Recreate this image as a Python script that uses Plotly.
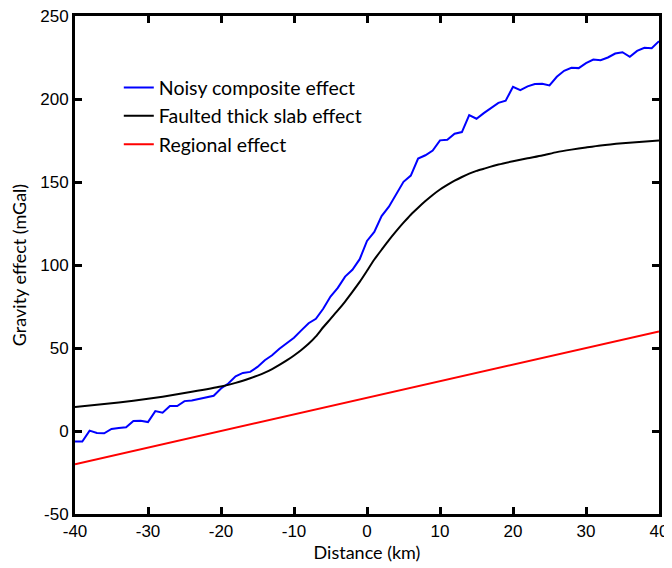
import plotly.graph_objects as go

# distance along profile (km), 1 km sampling for the noisy profile
dist = list(range(-40, 41))
noisy = [-6.4, -6.4, 0.2, -1.2, -1.4, 1.2, 1.8, 2.2, 6.0, 6.2,
         5.4, 12.0, 11.0, 15.0, 15.0, 18.0, 18.4, 19.4, 20.4, 21.2,
         25.6, 28.6, 33.0, 35.0, 35.6, 38.6, 42.6, 45.6, 49.6, 52.9,
         56.2, 60.6, 64.9, 67.6, 73.6, 81.0, 86.2, 93.0, 97.1, 103.5,
         114.5, 119.9, 129.5, 135.1, 142.5, 150.1, 153.9, 164.1, 166.1, 168.9,
         175.1, 175.5, 179.1, 180.1, 190.3, 188.1, 191.5, 194.7, 197.7, 199.0,
         207.4, 205.4, 207.6, 209.0, 209.2, 208.2, 213.4, 217.0, 218.8, 218.6,
         221.6, 223.8, 223.4, 225.0, 227.4, 228.2, 225.4, 229.0, 230.8, 230.6,
         234.8]

# slab effect read at fewer points (smooth curve)
slab_x = [-40, -36, -32, -28, -24, -20, -18, -16, -15, -14, -13, -12, -11, -10, -9, -8, -7, -6, -5, -4, -3, -2, -1,
          0, 1, 2, 3, 4, 5, 6, 7, 8, 9, 10, 11, 12, 13, 14, 15, 16, 18, 20, 22, 24, 26, 28, 30, 32, 35, 40]
slab = [14.5, 16.2, 18.2, 20.7, 23.6, 26.8, 29.0, 31.8, 33.4, 35.2, 37.3, 39.8, 42.5, 45.5, 48.8, 52.5, 57.0, 62.5,
        67.5, 72.6, 78.0, 83.8, 89.8,
        96.5, 103.3, 109.2, 115.0, 120.4, 125.5, 130.3, 134.5, 138.5, 142.2, 145.5, 148.3, 150.8, 153.0, 155.0, 156.7,
        158.0, 160.5, 162.5, 164.3, 166.0, 168.0, 169.5, 170.8, 172.0, 173.3, 175.0]

regional_x = [-40, 40]
regional = [-20, 60]

xticks = [-40, -30, -20, -10, 0, 10, 20, 30, 40]
yticks = [-50, 0, 50, 100, 150, 200, 250]

fig = go.Figure()
fig.add_trace(go.Scatter(x=dist, y=noisy, mode='lines', name='Noisy composite effect',
                         line=dict(color='#0000ff', width=2)))
fig.add_trace(go.Scatter(x=slab_x, y=slab, mode='lines', name='Faulted thick slab effect',
                         line=dict(color='black', width=2, shape='spline', smoothing=0.6)))
fig.add_trace(go.Scatter(x=regional_x, y=regional, mode='lines', name='Regional effect',
                         line=dict(color='#ff0000', width=2)))

axis_common = dict(showline=True, linewidth=3, linecolor='black', mirror='ticks',
                   ticks='inside', ticklen=7, tickwidth=3, tickcolor='black',
                   showgrid=False, zeroline=False, automargin=False,
                   ticklabeloverflow='allow',
                   tickfont=dict(family='Liberation Sans', size=17, color='black'))

fig.update_xaxes(range=[-40, 40], tickvals=xticks, ticktext=[str(v) for v in xticks],
                 title=dict(text='Distance (km)', font=dict(family='Lato', size=18, color='black'),
                            standoff=3),
                 **axis_common)
fig.update_yaxes(range=[-50, 250], tickvals=yticks, ticktext=[str(v) for v in yticks],
                 title=dict(text='Gravity effect (mGal)', font=dict(family='Lato', size=18, color='black'),
                            standoff=12),
                 **axis_common)

# page body adds an 8 px offset, so the figure is sized to fit the window
fig.update_layout(
    width=664, height=560,
    margin=dict(l=67, r=13, t=8, b=54),
    plot_bgcolor='white', paper_bgcolor='white',
    legend=dict(x=0.075, y=0.895, xanchor='left', yanchor='top',
                bgcolor='rgba(0,0,0,0)', font=dict(family='Lato', size=19.5, color='black'),
                tracegroupgap=0),
)

fig.write_html("out.html")
